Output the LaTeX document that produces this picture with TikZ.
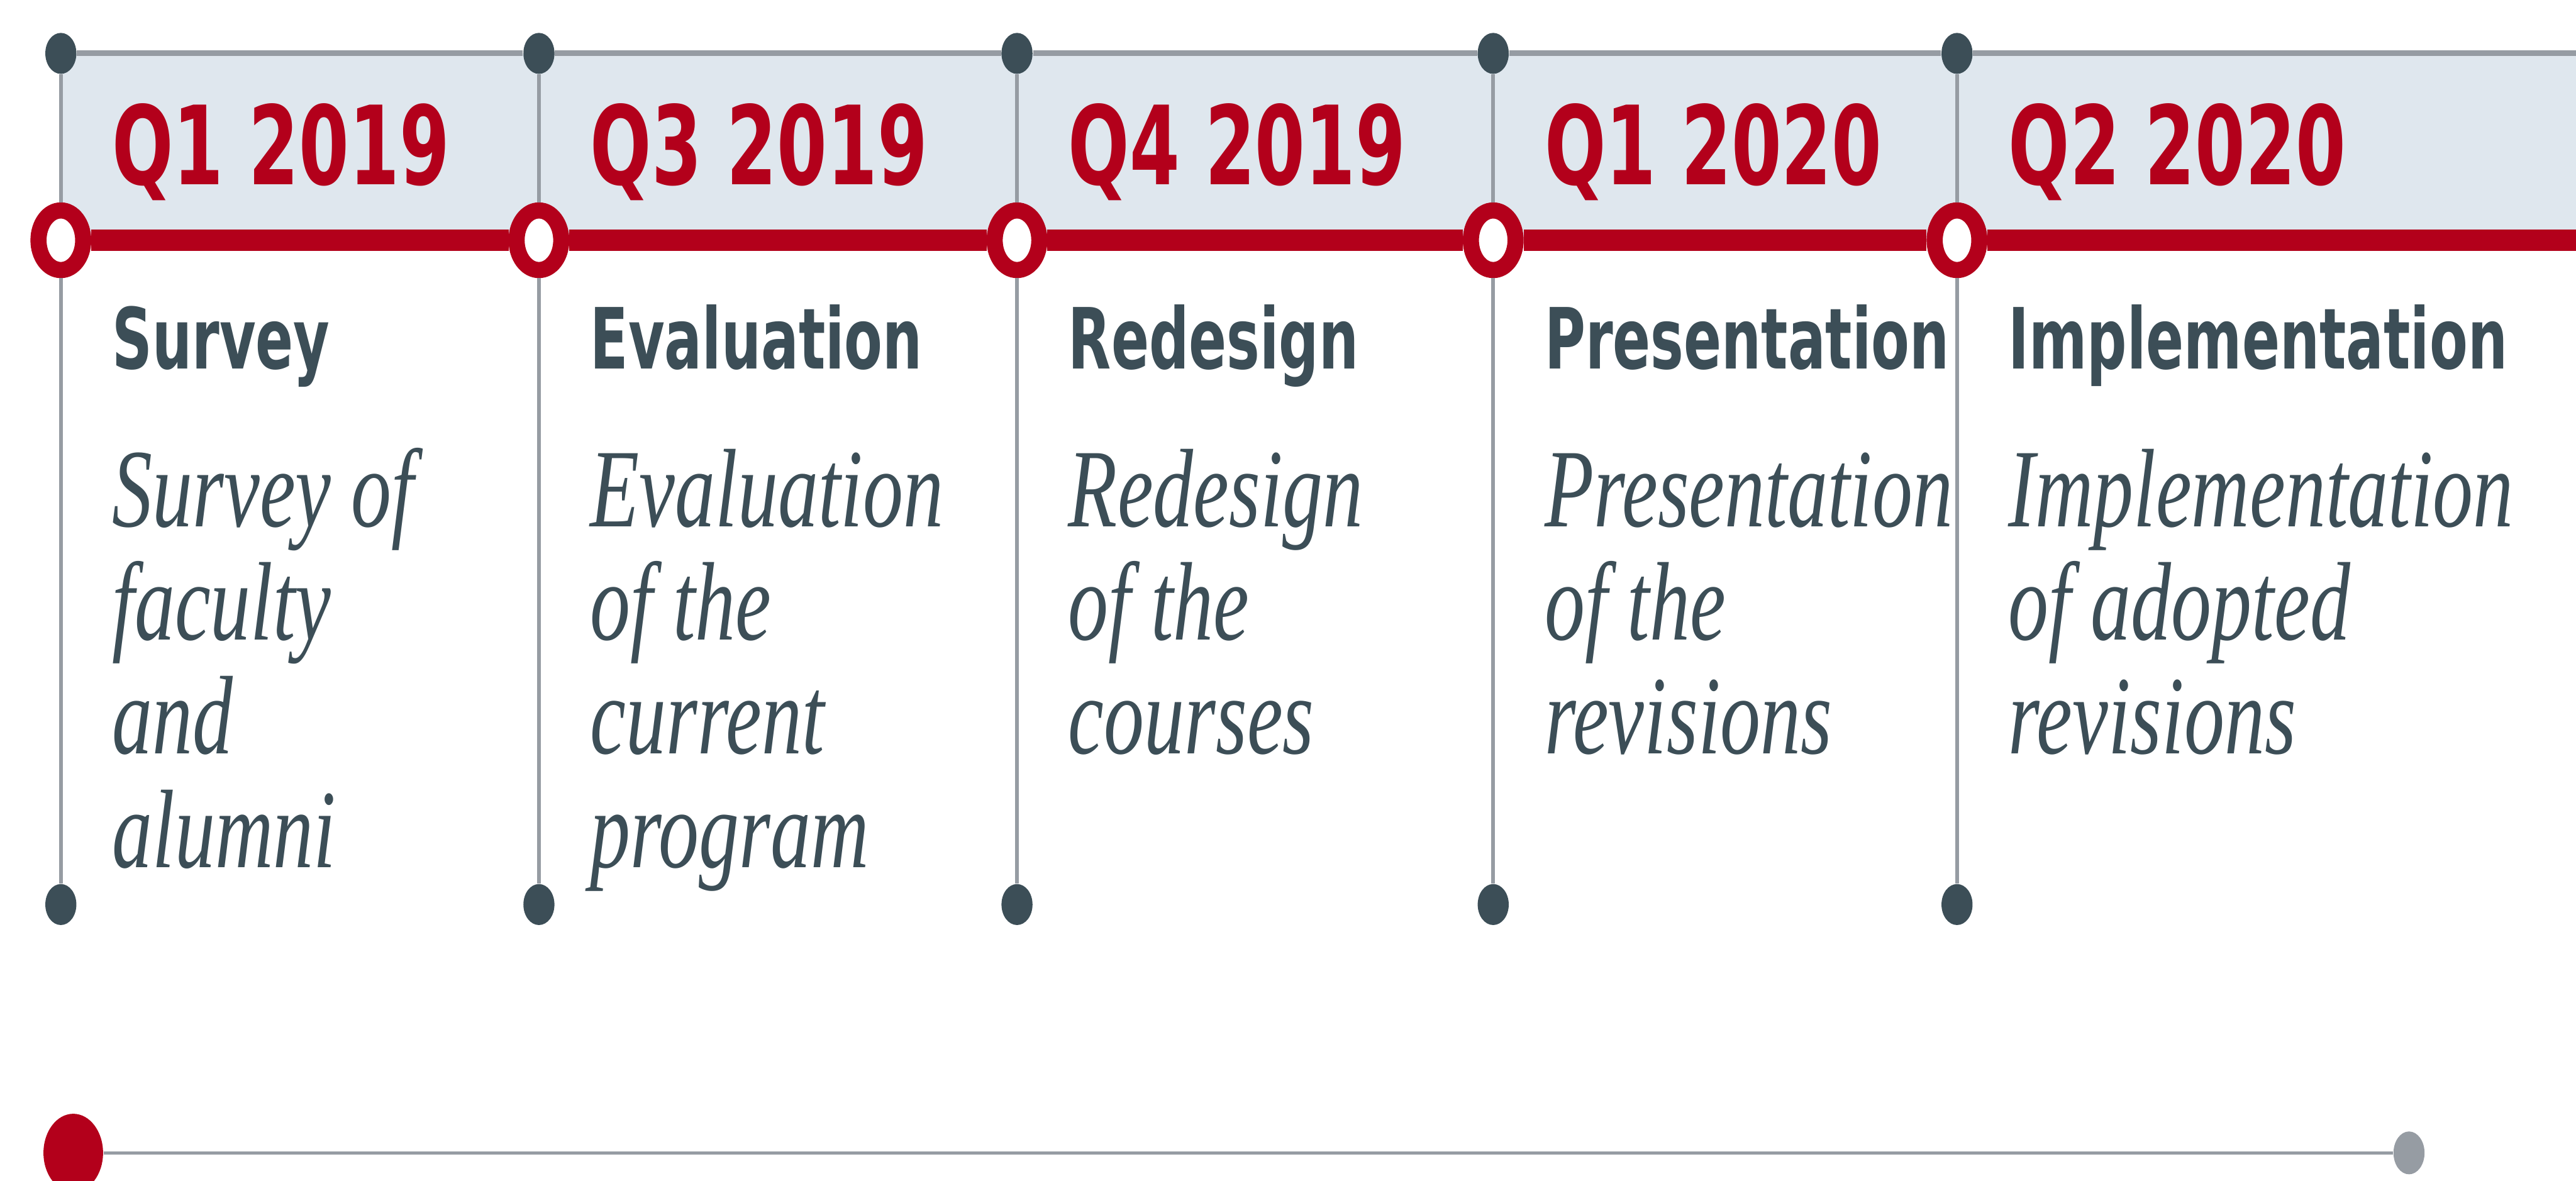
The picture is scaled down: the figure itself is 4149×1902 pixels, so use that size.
\documentclass[tikz,border=0pt]{standalone}
\usepackage{fontspec}
\usetikzlibrary{shapes.geometric}
\newfontfamily\quarterfont[FakeStretch=0.66]{DejaVu Sans}
\newfontfamily\notefont[FakeStretch=0.72]{Liberation Serif}
\definecolor{tlred}{HTML}{B3001B}
\definecolor{tlslate}{HTML}{3C4E57}
\definecolor{tlgrey}{HTML}{969CA3}
\definecolor{tlband}{HTML}{DFE7EE}

\begin{document}
\begin{tikzpicture}[x=0.25pt,y=-0.25pt,
    dot/.style={ellipse,inner sep=0pt,minimum width=12.5pt,minimum height=16.5pt,fill=tlslate},
    ring/.style={ellipse,inner sep=0pt,minimum width=18pt,minimum height=24pt,draw=tlred,line width=6.5pt,fill=white},
    quarter/.style={anchor=base west,inner sep=0pt,text=tlred,font=\quarterfont\bfseries\fontsize{44}{44}\selectfont},
    heading/.style={anchor=base west,inner sep=0pt,text=tlslate,font=\quarterfont\bfseries\fontsize{34}{34}\selectfont},
    note/.style={anchor=base west,inner sep=0pt,align=left,text=tlslate,font=\notefont\itshape\fontsize{45}{45.75}\selectfont}]
    \useasboundingbox (0,0) rectangle (4149,1902);

    % the shaded band behind the quarters
    \fill[tlband] (98,86) rectangle (4149,387);
    \coordinate (topend) at (4149,86);
    \coordinate (redend) at (4149,387);

    % one column per quarter: dots, ring and the guide between them
    \foreach \i/\x in {1/98,2/868,3/1638,4/2405,5/3152} {
        \node[dot] (top\i) at (\x,86) {};
        \node[ring] (ring\i) at (\x,387) {};
        \node[dot] (bot\i) at (\x,1457) {};
        \draw[tlgrey,line width=1.5pt] (top\i) -- (ring\i) (ring\i) -- (bot\i);
    }

    % the top rule and the red time line
    \foreach \i/\j in {1/2,2/3,3/4,4/5} {
        \draw[tlgrey,line width=2.25pt] (top\i) -- (top\j);
        \draw[tlred,line width=8.75pt] (ring\i) -- (ring\j);
    }
    \draw[tlgrey,line width=2.25pt] (top5) -- (topend);
    \draw[tlred,line width=8.75pt] (ring5) -- (redend);

    % quarter, title and description of each step
    % (\y is the baseline of the last line of the description)
    \foreach \i/\x/\y/\q/\h/\n in {
        1/98/1397/Q1 2019/Survey/{Survey of\\faculty\\and\\alumni},
        2/868/1397/Q3 2019/Evaluation/{Evaluation\\of the\\current\\program},
        3/1638/1214/Q4 2019/Redesign/{Redesign\\of the\\courses},
        4/2405/1214/Q1 2020/Presentation/{Presentation\\of the\\revisions},
        5/3152/1214/Q2 2020/Implementation/{Implementation\\of adopted\\revisions}} {
        \node[quarter] (q\i) at (\x+82,297) {\q};
        \node[heading] (h\i) at (\x+82,594) {\h};
        \node[note] (n\i) at (\x+82,\y) {\n};
    }

    % progress slider
    \node[ellipse,inner sep=0pt,minimum width=24pt,minimum height=31.5pt,fill=tlred] (start) at (118,1857) {};
    \node[ellipse,inner sep=0pt,minimum width=12.5pt,minimum height=17.25pt,fill=tlgrey] (stop) at (3880,1857) {};
    \draw[tlgrey,line width=1.25pt] (start) -- (stop);
\end{tikzpicture}
\end{document}
